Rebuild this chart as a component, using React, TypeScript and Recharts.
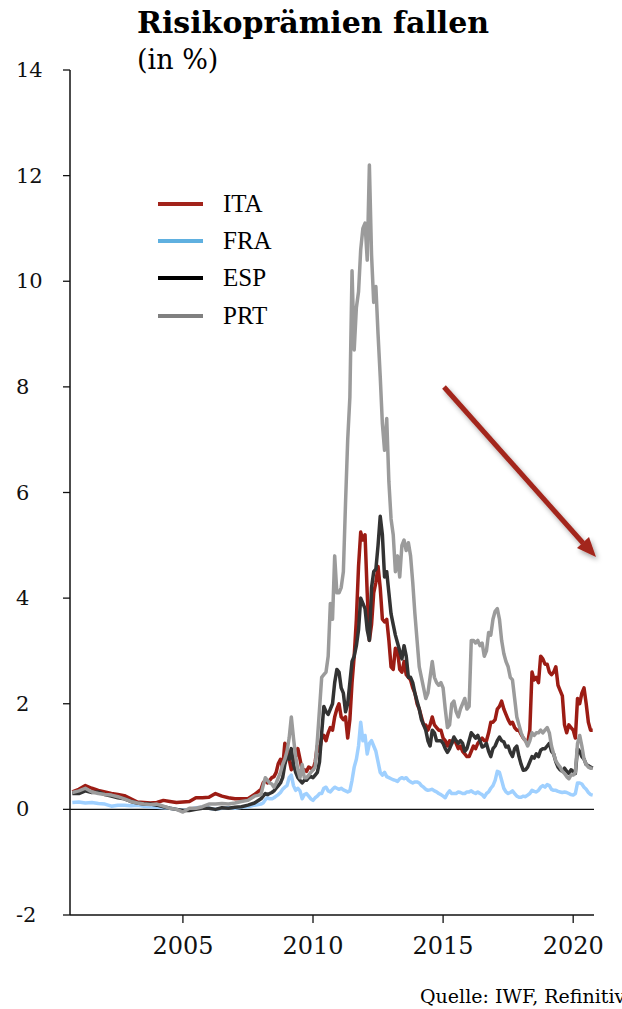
import React from "react";
import { LineChart, Line, XAxis, YAxis, ReferenceLine, Legend } from "recharts";

// ---------- data ----------
// quarterly observations 2000-10 .. 2007-10, monthly 2008-01 .. 2020-10
const dates = [
  "2000-10",
  "2001-01", "2001-04", "2001-07", "2001-10",
  "2002-01", "2002-04", "2002-07", "2002-10",
  "2003-01", "2003-04", "2003-07", "2003-10",
  "2004-01", "2004-04", "2004-07", "2004-10",
  "2005-01", "2005-04", "2005-07", "2005-10",
  "2006-01", "2006-04", "2006-07", "2006-10",
  "2007-01", "2007-04", "2007-07", "2007-10",
  "2008-01", "2008-02", "2008-03", "2008-04", "2008-05", "2008-06", "2008-07", "2008-08", "2008-09", "2008-10", "2008-11", "2008-12",
  "2009-01", "2009-02", "2009-03", "2009-04", "2009-05", "2009-06", "2009-07", "2009-08", "2009-09", "2009-10", "2009-11", "2009-12",
  "2010-01", "2010-02", "2010-03", "2010-04", "2010-05", "2010-06", "2010-07", "2010-08", "2010-09", "2010-10", "2010-11", "2010-12",
  "2011-01", "2011-02", "2011-03", "2011-04", "2011-05", "2011-06", "2011-07", "2011-08", "2011-09", "2011-10", "2011-11", "2011-12",
  "2012-01", "2012-02", "2012-03", "2012-04", "2012-05", "2012-06", "2012-07", "2012-08", "2012-09", "2012-10", "2012-11", "2012-12",
  "2013-01", "2013-02", "2013-03", "2013-04", "2013-05", "2013-06", "2013-07", "2013-08", "2013-09", "2013-10", "2013-11", "2013-12",
  "2014-01", "2014-02", "2014-03", "2014-04", "2014-05", "2014-06", "2014-07", "2014-08", "2014-09", "2014-10", "2014-11", "2014-12",
  "2015-01", "2015-02", "2015-03", "2015-04", "2015-05", "2015-06", "2015-07", "2015-08", "2015-09", "2015-10", "2015-11", "2015-12",
  "2016-01", "2016-02", "2016-03", "2016-04", "2016-05", "2016-06", "2016-07", "2016-08", "2016-09", "2016-10", "2016-11", "2016-12",
  "2017-01", "2017-02", "2017-03", "2017-04", "2017-05", "2017-06", "2017-07", "2017-08", "2017-09", "2017-10", "2017-11", "2017-12",
  "2018-01", "2018-02", "2018-03", "2018-04", "2018-05", "2018-06", "2018-07", "2018-08", "2018-09", "2018-10", "2018-11", "2018-12",
  "2019-01", "2019-02", "2019-03", "2019-04", "2019-05", "2019-06", "2019-07", "2019-08", "2019-09", "2019-10", "2019-11", "2019-12",
  "2020-01", "2020-02", "2020-03", "2020-04", "2020-05", "2020-06", "2020-07", "2020-08", "2020-09", "2020-10",
];

const ita = [
  0.33, 0.38, 0.45, 0.4, 0.36, 0.33, 0.3, 0.28, 0.26, 0.2, 0.14, 0.13, 0.12, 0.13, 0.17,
  0.15, 0.13, 0.14, 0.15, 0.22, 0.22, 0.23, 0.3, 0.25, 0.22, 0.2, 0.2, 0.2, 0.28,
  0.38, 0.5, 0.55, 0.5, 0.55, 0.6, 0.62, 0.7, 0.87, 0.95, 0.78, 1.25,
  1.2, 0.95, 0.75, 0.9, 1.0, 1.15, 0.95, 0.74, 0.75, 0.72, 0.8, 0.78,
  0.75, 0.9, 1.2, 1.1, 1.35, 1.4, 1.3, 1.45, 1.55, 1.5, 1.75, 1.9,
  2.0, 1.75, 1.7, 1.75, 1.35, 1.7, 2.4, 2.9, 3.6, 4.6, 5.25, 5.1,
  5.2, 4.1, 3.2, 3.5, 4.1, 4.3, 4.6, 4.2, 3.6, 3.55, 3.6, 3.2,
  2.7, 2.65, 3.05, 3.0, 2.65, 2.6, 2.8, 2.55, 2.5, 2.45, 2.3, 2.2,
  2.0, 1.9, 1.75, 1.6, 1.6, 1.5, 1.6, 1.75, 1.6, 1.55, 1.5, 1.5,
  1.35, 1.3, 1.2, 1.3, 1.25, 1.35, 1.25, 1.15, 1.2, 1.1, 1.05, 1.0,
  1.0, 1.1, 1.2, 1.15, 1.25, 1.3, 1.35, 1.3, 1.3, 1.45, 1.65, 1.65,
  1.7, 1.9, 1.95, 2.05, 1.9, 1.8, 1.7, 1.62, 1.65, 1.55, 1.5, 1.5,
  1.42, 1.35, 1.3, 1.25, 1.5, 2.6, 2.45, 2.5, 2.4, 2.9, 2.85, 2.75,
  2.75, 2.6, 2.55, 2.6, 2.7, 2.35, 2.25, 2.15, 1.6, 1.45, 1.6, 1.55,
  1.5, 1.35, 2.1, 2.0, 2.2, 2.3, 2.0, 1.65, 1.5, 1.5,
];

const fra = [
  0.13, 0.14, 0.12, 0.13, 0.11, 0.1, 0.06, 0.08, 0.08, 0.07, 0.08, 0.06, 0.05, 0.04, 0.03,
  0.02, 0.0, -0.02, 0.0, 0.03, 0.04, 0.02, 0.0, 0.02, 0.03, 0.02, 0.04, 0.05, 0.08,
  0.1, 0.12, 0.18, 0.22, 0.2, 0.2, 0.22, 0.25, 0.28, 0.32, 0.38, 0.42,
  0.45, 0.6, 0.65, 0.45, 0.36, 0.4, 0.35, 0.2, 0.28, 0.3, 0.25, 0.2,
  0.17, 0.22, 0.25, 0.3, 0.3, 0.4, 0.42, 0.35, 0.33, 0.38, 0.42, 0.4,
  0.38, 0.4, 0.37, 0.35, 0.33, 0.35, 0.55, 0.8, 0.95, 1.2, 1.65, 1.3,
  1.4, 1.05, 1.25, 1.3, 1.2, 1.1, 0.9, 0.7, 0.65, 0.7, 0.62, 0.6,
  0.58, 0.56, 0.55, 0.53, 0.58, 0.6, 0.58, 0.6, 0.55, 0.52, 0.5, 0.52,
  0.52, 0.5, 0.45, 0.42, 0.38, 0.36, 0.37, 0.38, 0.35, 0.33, 0.3, 0.28,
  0.25, 0.22, 0.3, 0.35, 0.3, 0.3, 0.3, 0.33, 0.32, 0.3, 0.3, 0.33,
  0.33, 0.35, 0.32, 0.3, 0.33, 0.3, 0.28, 0.23, 0.3, 0.33, 0.4, 0.45,
  0.55, 0.72, 0.7, 0.55, 0.4, 0.33, 0.3, 0.32, 0.35, 0.3, 0.25, 0.23,
  0.23, 0.25, 0.24, 0.27, 0.3, 0.36, 0.34, 0.33, 0.36, 0.42, 0.45, 0.42,
  0.47, 0.45, 0.38, 0.36, 0.36, 0.34, 0.33, 0.32, 0.33, 0.32, 0.3, 0.28,
  0.27, 0.3, 0.5, 0.5, 0.48, 0.42, 0.38, 0.32, 0.28, 0.27,
];

const esp = [
  0.3, 0.3, 0.35, 0.32, 0.33, 0.28, 0.25, 0.22, 0.2, 0.15, 0.12, 0.1, 0.1, 0.08, 0.05,
  0.02, 0.0, -0.02, -0.02, 0.0, 0.02, 0.02, 0.0, 0.03, 0.02, 0.04, 0.05, 0.08, 0.12,
  0.2, 0.25, 0.3, 0.28, 0.3, 0.32, 0.35, 0.4, 0.45, 0.5, 0.6, 0.85,
  1.0, 0.95, 1.15, 0.85, 0.7, 0.6, 0.55, 0.5, 0.55, 0.55, 0.6, 0.62,
  0.6, 0.65, 0.7, 0.9, 1.45, 1.95, 1.85, 1.8, 1.9, 2.0, 2.4, 2.65,
  2.6, 2.3, 2.2, 1.85, 2.0, 2.4, 2.8, 2.9, 3.1, 3.4, 4.0, 3.9,
  3.8, 3.4, 3.2, 4.2, 4.5, 4.55, 5.0, 5.55, 5.2, 4.4, 4.5, 4.1,
  3.7, 3.5, 3.3, 3.15, 3.0, 2.85, 3.1, 2.9, 2.5, 2.5, 2.4, 2.2,
  2.05, 1.9, 1.7, 1.6, 1.5, 1.3, 1.2, 1.5, 1.45, 1.3, 1.3, 1.3,
  1.25, 1.15, 1.08, 1.15, 1.25, 1.37, 1.3, 1.25, 1.3, 1.25, 1.1, 1.15,
  1.3, 1.45, 1.4, 1.35, 1.4, 1.3, 1.18, 1.2, 1.25, 1.1, 1.0, 1.15,
  1.2, 1.3, 1.37, 1.3, 1.28, 1.18, 1.2, 1.08, 1.0, 1.15, 1.2, 1.0,
  0.85, 0.74, 0.75, 0.8, 0.9, 1.0, 0.97, 1.05, 1.0, 1.12, 1.15, 1.15,
  1.2, 1.25, 1.1, 1.05, 0.9, 0.8, 0.75, 0.72, 0.78, 0.72, 0.68, 0.75,
  0.72, 0.68, 1.15, 1.1, 1.0, 0.95, 0.85, 0.83, 0.8, 0.78,
];

const prt = [
  0.32, 0.35, 0.4, 0.33, 0.3, 0.28, 0.27, 0.24, 0.2, 0.15, 0.12, 0.1, 0.09, 0.1, 0.06,
  0.02, 0.0, -0.05, 0.02, 0.02, 0.05, 0.1, 0.1, 0.11, 0.1, 0.12, 0.15, 0.17, 0.25,
  0.28, 0.45, 0.6, 0.55, 0.5, 0.48, 0.42, 0.5, 0.6, 0.7, 0.85, 0.95,
  1.1, 1.35, 1.75, 1.35, 1.0, 0.75, 0.6, 0.85, 0.6, 0.6, 0.65, 0.7,
  0.75, 0.8, 1.3, 1.9, 2.5, 2.55, 2.6, 2.9, 3.9, 3.6, 4.8, 4.1,
  4.1, 4.2, 4.5, 5.8, 7.0, 7.8, 10.2, 8.7, 9.5, 9.8, 10.6, 11.0,
  11.1, 10.4, 12.2, 10.5, 9.6, 9.9, 9.0, 8.2, 7.3, 6.8, 7.4, 6.2,
  5.5, 5.2, 4.5, 4.8, 4.4, 5.0, 5.1, 4.9, 5.05, 4.8, 4.3, 3.7,
  3.2, 2.7, 2.5, 2.3, 2.1, 2.2, 2.5, 2.8, 2.5, 2.4, 2.35, 2.4,
  2.3, 1.9, 1.55, 1.6, 2.0, 2.05, 1.85, 1.75, 1.9, 2.0, 2.1, 1.9,
  1.95, 3.2, 3.2, 3.15, 3.2, 3.1, 3.15, 2.9, 3.0, 3.35, 3.3, 3.6,
  3.75, 3.8, 3.6, 3.2, 2.95, 2.8, 2.7, 2.5, 2.45, 2.1, 1.75, 1.6,
  1.45, 1.35, 1.3, 1.2, 1.3, 1.45, 1.4, 1.45, 1.45, 1.5, 1.45, 1.5,
  1.55, 1.45, 1.2, 1.05, 0.92, 0.85, 0.8, 0.72, 0.68, 0.62, 0.58, 0.65,
  0.65, 0.7, 1.25, 1.4, 1.2, 0.95, 0.85, 0.8, 0.78, 0.78,
];

const yTicks = [-2, 0, 2, 4, 6, 8, 10, 12, 14];
const xTicks = [2005, 2010, 2015, 2020];

const seriesNames = ["ITA", "FRA", "ESP", "PRT"];
const lineColors = ["#9c1c14", "#9fd0ff", "#333333", "#9b9b9b"];
const legendColors = ["#a2231b", "#5fb0e0", "#000000", "#808080"];

const title = "Risikoprämien fallen";
const subtitle = "(in %)";
const source = "Quelle: IWF, Refinitiv";

// ---------- build rows ----------
const toYear = (s: string) => {
  const [y, m] = s.split("-").map(Number);
  return y + (m - 1) / 12;
};
const valueSets = [ita, fra, esp, prt];
const rows = dates.map((d, i) => {
  const r: Record<string, number> = { t: toYear(d) };
  seriesNames.forEach((n, k) => {
    r[n] = valueSets[k][i];
  });
  return r;
});

const AXIS_FONT = "'DejaVu Serif', 'Liberation Serif', serif";
const LEGEND_FONT = "'Liberation Serif', 'DejaVu Serif', serif";

const YTick = (props: any) => (
  <text
    x={16}
    y={props.y}
    dy={7}
    textAnchor="start"
    fontFamily={AXIS_FONT}
    fontSize={21}
    fill="#111"
  >
    {props.payload.value}
  </text>
);

const XTick = (props: any) => (
  <text
    x={props.x}
    y={954}
    textAnchor="middle"
    fontFamily={AXIS_FONT}
    fontSize={24}
    fill="#111"
  >
    {props.payload.value}
  </text>
);

const LegendBox = () => (
  <div style={{ fontFamily: LEGEND_FONT, fontSize: 25, color: "#000" }}>
    {seriesNames.map((n, k) => (
      <div
        key={n}
        style={{ display: "flex", alignItems: "center", height: 37.3 }}
      >
        <div
          style={{
            width: 45,
            height: 4,
            background: legendColors[k],
            marginRight: 20,
          }}
        />
        <span>{n}</span>
      </div>
    ))}
  </div>
);

export default function App() {
  return (
    <div
      style={{
        position: "absolute",
        left: 0,
        top: 0,
        width: 622,
        height: 1009,
        background: "#fff",
        overflow: "hidden",
      }}
    >
      <LineChart
        width={622}
        height={1009}
        data={rows}
        margin={{ top: 70, right: 28, left: 0, bottom: 0 }}
      >
        <XAxis
          dataKey="t"
          type="number"
          domain={[2000.66, 2020.8]}
          ticks={xTicks}
          allowDataOverflow
          height={94}
          tickSize={8}
          tick={<XTick />}
          axisLine={{ stroke: "#111", strokeWidth: 1.5 }}
          tickLine={{ stroke: "#111", strokeWidth: 1.3 }}
        />
        <YAxis
          type="number"
          domain={[-2, 14]}
          ticks={yTicks}
          width={70}
          tickSize={7}
          tick={<YTick />}
          axisLine={{ stroke: "#111", strokeWidth: 1.5 }}
          tickLine={{ stroke: "#111", strokeWidth: 1.3 }}
        />
        <ReferenceLine y={0} stroke="#111" strokeWidth={1.3} />
        {seriesNames.map((n, k) => (
          <Line
            key={n}
            dataKey={n}
            type="linear"
            stroke={lineColors[k]}
            strokeWidth={3.5}
            dot={false}
            isAnimationActive={false}
            strokeLinejoin="round"
          />
        ))}
        <Legend
          layout="vertical"
          align="center"
          verticalAlign="middle"
          content={() => <LegendBox />}
          wrapperStyle={{ left: 158, top: 185, width: 160 }}
        />
      </LineChart>
      <svg
        width={622}
        height={1009}
        style={{ position: "absolute", left: 0, top: 0, pointerEvents: "none" }}
      >
        <defs>
          <filter id="shadow" x="-20%" y="-20%" width="140%" height="140%">
            <feDropShadow dx="2" dy="3" stdDeviation="2.5" floodColor="#000" floodOpacity="0.35" />
          </filter>
        </defs>
        <text
          x={137}
          y={33}
          fontFamily={AXIS_FONT}
          fontWeight="bold"
          fontSize={30}
          fill="#000"
        >
          {title}
        </text>
        <text x={137} y={69} fontFamily={AXIS_FONT} fontSize={27} fill="#000">
          {subtitle}
        </text>
        <g filter="url(#shadow)">
          <line x1={444} y1={387} x2={583} y2={543} stroke="#a3261d" strokeWidth={5} />
          <polygon points="596,557 577,548 589,537" fill="#a3261d" />
        </g>
        <text x={420} y={1003} fontFamily={AXIS_FONT} fontSize={19} fill="#000">
          {source}
        </text>
      </svg>
    </div>
  );
}
